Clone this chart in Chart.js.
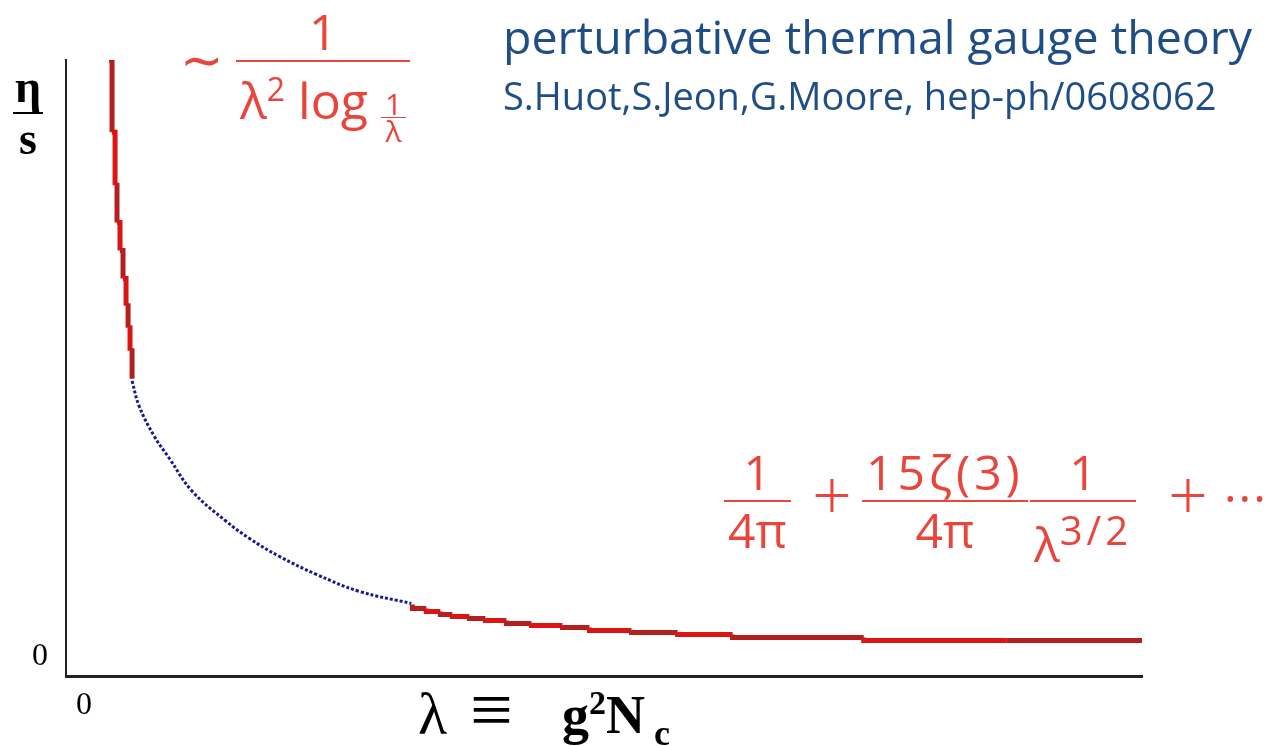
<!DOCTYPE html>
<html>
<head>
<meta charset="utf-8">
<script src="https://cdn.jsdelivr.net/npm/chart.js@4.4.0/dist/chart.umd.min.js"></script>
<style>
  html, body { margin: 0; padding: 0; background: #fff; }
  #wrap { position: relative; width: 1272px; height: 746px; overflow: hidden; }
  #plot { position: absolute; left: 0; top: 0; }
  .txt { position: absolute; white-space: nowrap; }
  .blue { color: #1f4e87; font-family: "Open Sans", sans-serif; }
  .red { color: #e8453c; font-family: "Open Sans", sans-serif; }
  .serif { font-family: "Liberation Serif", "DejaVu Serif", serif; color: #000; }
  .frac { display: inline-flex; flex-direction: column; align-items: center; vertical-align: middle; }
  .frac > .num { display: block; padding: 0 4px; }
  .frac > .den { display: block; border-top: 2px solid #e8453c; padding: 0 4px; width: 100%; text-align: center; box-sizing: border-box; }
  .big { font-size: 48px; line-height: 56px; }
  .plus { font-size: 70px; line-height: 70px; font-weight: 300; }
</style>
</head>
<body>
<div id="wrap">
  <canvas id="plot" width="1272" height="746"></canvas>

  <div class="txt blue" style="left:503px; top:4px; font-size:46.5px;">perturbative thermal gauge theory</div>
  <div class="txt blue" style="left:503px; top:69px; font-size:38px;">S.Huot,S.Jeon,G.Moore, hep-ph/0608062</div>

  <!-- small coupling asymptote -->
  <div class="txt red" style="left:180px; top:22px; font-size:52px;">∼</div>
  <div class="txt red" style="left:236px; top:2px; font-size:50px; line-height:58px;">
    <div class="frac">
      <span class="num">1</span>
      <span class="den" style="padding-top:0px; line-height:54px;">λ<sup style="font-size:32px;">2</sup> log <span class="frac" style="font-size:30px; line-height:26px; vertical-align:4px;"><span class="num">1</span><span class="den" style="border-top-width:1.5px;">λ</span></span></span>
    </div>
  </div>

  <!-- large coupling expansion -->
  <div class="txt red big" style="left:724px; top:444px;"><span class="frac"><span class="num">1</span><span class="den">4π</span></span></div>
  <div class="txt red plus" style="left:812px; top:458px;">+</div>
  <div class="txt red big" style="left:862px; top:444px;"><span class="frac"><span class="num" style="letter-spacing:4px;">15ζ(3)</span><span class="den">4π</span></span></div>
  <div class="txt red big" style="left:1030px; top:444px;"><span class="frac"><span class="num">1</span><span class="den">λ<sup style="font-size:40px; letter-spacing:4px;">3/2</sup></span></span></div>
  <div class="txt red plus" style="left:1168px; top:458px;">+</div>
  <div class="txt red big" style="left:1224px; top:470px; letter-spacing:2px;">···</div>

  <!-- axis titles -->
  <div class="txt serif" style="left:13px; top:62px; font-size:46px; font-weight:bold; line-height:50px;">
    <div class="frac"><span class="num" style="padding:0 2px;">η</span><span class="den" style="border-top-color:#000; padding:0 2px;">s</span></div>
  </div>
  <div class="txt serif" style="left:418px; top:680px; font-size:60px;">λ</div>
  <div class="txt serif" style="left:470px; top:666px; font-size:76px;">≡</div>
  <div class="txt serif" style="left:562px; top:684px; font-size:54px; font-weight:bold;">g<sup style="font-size:34px;">2</sup>N<sub style="font-size:36px;">&nbsp;c</sub></div>
</div>

<script>
// eta/s versus lambda (arbitrary units, axes 0..10)

// small lambda branch (red, stepped)
const lowLambda = [0.400, 0.428, 0.456, 0.474, 0.502, 0.530, 0.558, 0.577, 0.595, 0.614];
const lowEta    = [10.00, 8.829, 7.967, 7.366, 6.911, 6.455, 6.016, 5.659, 5.285, 4.829];

// intermediate region (blue, dotted)
const midLambda = [0.614, 0.679, 0.819, 0.958, 1.172, 1.488, 1.702, 1.981, 2.326, 2.726, 3.209];
const midEta    = [4.797, 4.390, 3.902, 3.545, 3.008, 2.520, 2.244, 1.951, 1.659, 1.382, 1.187];

// large lambda branch (red, stepped)
const highLambda = [3.219, 3.349, 3.479, 3.591, 3.749, 3.898, 4.093, 4.326, 4.614, 4.865, 5.256, 5.684, 6.195, 7.414, 8.744, 10.00];
const highEta    = [1.171, 1.106, 1.057, 1.008, 0.976, 0.943, 0.911, 0.862, 0.829, 0.797, 0.748, 0.715, 0.683, 0.634, 0.585, 0.585];

const tickValues = [0];

function toPoints(xs, ys) {
  return xs.map((x, i) => ({ x: x, y: ys[i] }));
}

// alternate two reds like the hand drawn strokes
function stepColor(ctx) {
  return ctx.p0DataIndex % 2 === 0 ? '#b3201f' : '#dc1414';
}

const ctx = document.getElementById('plot').getContext('2d');

new Chart(ctx, {
  type: 'line',
  data: {
    datasets: [
      {
        data: toPoints(lowLambda, lowEta),
        borderColor: '#c41818',
        borderWidth: 5,
        stepped: 'before',
        pointRadius: 0,
        segment: { borderColor: stepColor },
      },
      {
        data: toPoints(midLambda, midEta),
        borderColor: '#1a1a8c',
        borderWidth: 3,
        borderDash: [3, 2],
        tension: 0.4,
        pointRadius: 0,
      },
      {
        data: toPoints(highLambda, highEta),
        borderColor: '#c41818',
        borderWidth: 5,
        stepped: 'after',
        pointRadius: 0,
        segment: { borderColor: stepColor },
      },
    ],
  },
  options: {
    responsive: false,
    animation: false,
    layout: {
      padding: { left: 14, right: 130, top: 60, bottom: 11 },
    },
    plugins: {
      legend: { display: false },
      tooltip: { enabled: false },
    },
    scales: {
      x: {
        type: 'linear',
        min: 0,
        max: 10,
        afterBuildTicks: (axis) => { axis.ticks = tickValues.map(v => ({ value: v })); },
        grid: { display: false, drawTicks: false },
        border: { display: true, color: '#222', width: 3 },
        ticks: {
          color: '#000',
          padding: 10,
          labelOffset: 18,
          font: { family: 'Liberation Serif', size: 32 },
          callback: (v) => String(v),
        },
      },
      y: {
        type: 'linear',
        min: 0,
        max: 10,
        afterBuildTicks: (axis) => { axis.ticks = tickValues.map(v => ({ value: v })); },
        grid: { display: false, drawTicks: false },
        border: { display: true, color: '#222', width: 2 },
        ticks: {
          color: '#000',
          padding: 18,
          labelOffset: -20,
          font: { family: 'Liberation Serif', size: 32 },
          callback: (v) => String(v),
        },
      },
    },
  },
});
</script>
</body>
</html>
